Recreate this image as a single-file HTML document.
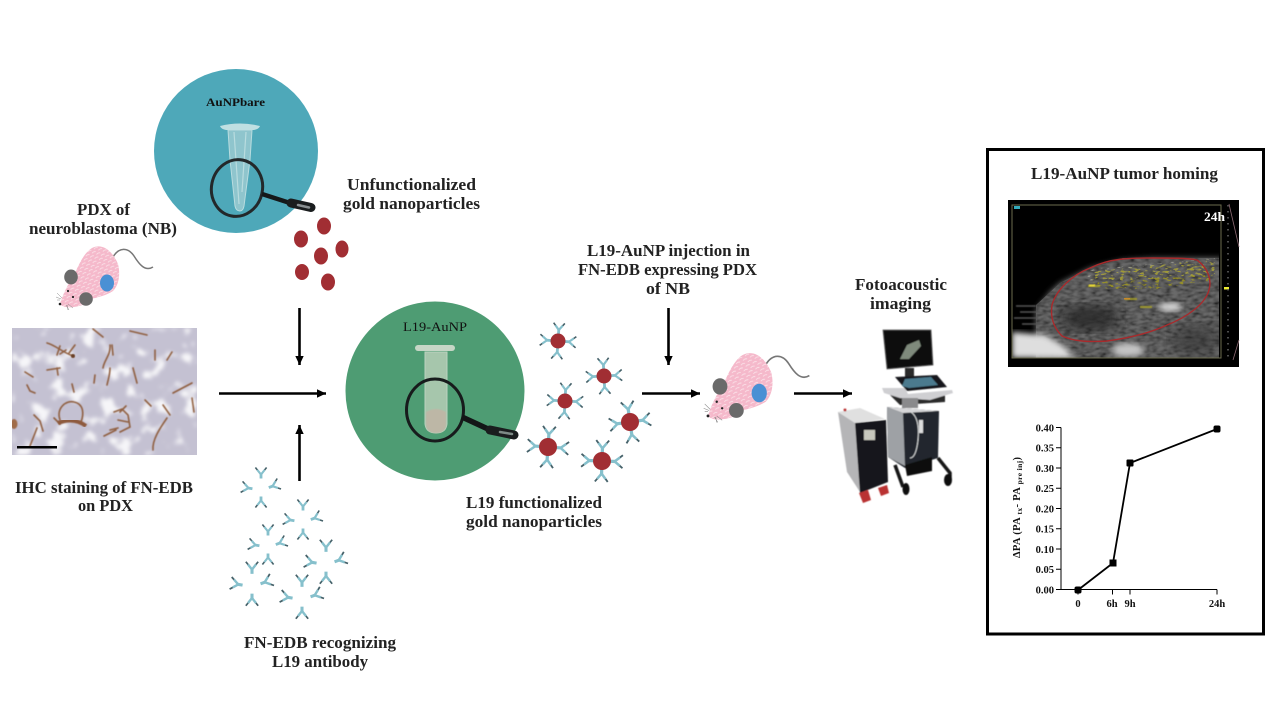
<!DOCTYPE html>
<html lang="en"><head><meta charset="utf-8"><title>L19-AuNP diagram</title>
<style>
html,body{margin:0;padding:0;background:#fff;width:1280px;height:720px;overflow:hidden}
svg{display:block}
.t{font-family:"Liberation Serif",serif;font-weight:bold;font-size:16.5px;fill:#222}
.c{font-family:"Liberation Serif",serif;font-weight:bold;font-size:10.5px;fill:#111}
</style></head><body>
<svg width="1280" height="720" viewBox="0 0 1280 720" xmlns="http://www.w3.org/2000/svg">
<defs>
<marker id="ah" markerUnits="userSpaceOnUse" markerWidth="10" markerHeight="10" refX="9" refY="5" orient="auto"><path d="M0,0.8 L9,5 L0,9.2z" fill="#000"/></marker>
<g id="ab" fill="none"><path d="M0,4.5V0" stroke="#86c0cc" stroke-width="2.8"/><path d="M0,0.5L-3.6,-4M0,0.5L3.6,-4" stroke="#86c0cc" stroke-width="2.2"/><path d="M-3.6,-4L-5.6,-6.5M3.6,-4L5.6,-6.5" stroke="#46626a" stroke-width="1.6"/></g>
<g id="grp"><use href="#ab" transform="translate(0,-11)"/><use href="#ab" transform="translate(-13,3) rotate(-80)"/><use href="#ab" transform="translate(12,1) rotate(70)"/><use href="#ab" transform="translate(0,16) rotate(180)"/></g>
<g id="np"><use href="#ab" transform="translate(0,-11.5)"/><use href="#ab" transform="translate(11.5,0) rotate(90)"/><use href="#ab" transform="translate(0,11.5) rotate(180)"/><use href="#ab" transform="translate(-11.5,0) rotate(-90)"/></g>
<pattern id="fur" width="7" height="6" patternUnits="userSpaceOnUse" patternTransform="rotate(-25)"><rect width="7" height="6" fill="#f5b9cb"/><path d="M1,1.5q2,-1.2 4,0M4.5,4.5q2,-1.2 4,0M-2.5,4.5q2,-1.2 4,0" stroke="#fbe4ea" stroke-width=".8" fill="none"/></pattern>
<g id="mouse">
<path d="M113,257 C119,247 128,247 134,256 C139,264 145,272 153,267" fill="none" stroke="#777" stroke-width="1.5"/>
<path d="M60,304 C62,296 68,284 75,273 C80,262 85,252 92,248 C102,243 112,250 118,264 C121,276 118,286 113,291 C105,296 98,297 92,299 C88,303 82,306 74,307 C68,308 62,307 60,304z" fill="url(#fur)"/>
<ellipse cx="107" cy="283" rx="7" ry="8.5" fill="#4a90d4"/>
<ellipse cx="71" cy="277" rx="6.8" ry="7.5" fill="#6a6a6a"/>
<ellipse cx="86" cy="299" rx="6.8" ry="6.8" fill="#6a6a6a"/>
<circle cx="68" cy="291" r="1.1" fill="#222"/><circle cx="73" cy="297" r="1.1" fill="#222"/><circle cx="60" cy="304" r="1.3" fill="#222"/>
<path d="M62,298l-5,-5M61,299l-5,-2M60,300l-3,0M66,305l3,5M67,305l1,5M68,304l5,4" stroke="#888" stroke-width=".5" fill="none"/>
</g>
<filter id="patch" x="0" y="0" width="100%" height="100%"><feTurbulence type="fractalNoise" baseFrequency=".06" numOctaves="3" seed="7"/><feColorMatrix values="0 0 0 0 1 0 0 0 0 1 0 0 0 0 1 7 0 0 0 -3.9"/><feGaussianBlur stdDeviation="1.8"/></filter>
<filter id="grain" x="0" y="0" width="100%" height="100%"><feTurbulence type="fractalNoise" baseFrequency=".14 .38" numOctaves="2" seed="4"/><feColorMatrix values="0 0 0 0 0 0 0 0 0 0 0 0 0 0 0 1.8 0 0 0 -.55"/><feGaussianBlur stdDeviation=".5"/><feComposite in2="SourceGraphic" operator="in"/><feMerge><feMergeNode in="SourceGraphic"/><feMergeNode/></feMerge></filter>
<filter id="spk" x="0" y="0" width="100%" height="100%"><feTurbulence type="fractalNoise" baseFrequency=".2 .45" numOctaves="2" seed="11"/><feColorMatrix values="0 0 0 0 0 0 0 0 0 0 0 0 0 0 0 8 0 0 0 -4.5"/><feComposite in="SourceGraphic" operator="in"/><feGaussianBlur stdDeviation=".35"/></filter>
<filter id="b1"><feGaussianBlur stdDeviation=".6"/></filter>
<filter id="b3"><feGaussianBlur stdDeviation="3"/></filter>
<filter id="b7"><feGaussianBlur stdDeviation="7"/></filter>
<clipPath id="ihc"><rect x="12" y="328" width="185" height="127"/></clipPath>
<clipPath id="us"><rect x="1012" y="205" width="207" height="153"/></clipPath>
</defs>

<!-- teal circle -->
<circle cx="236" cy="151" r="82" fill="#4ea8b9"/>
<path d="M228,130h24l-2,30 -6,46q-1,5 -4,5q-4,0 -5,-5l-5,-46z" fill="#8fc5cd" stroke="#b8dcdf" stroke-width="1"/>
<path d="M220,126q20,-5 40,0q-1,3 -6,4h-28q-5,-1 -6,-4z" fill="#bfdfe2"/>
<path d="M234,132l5,72M246,132l-4,60" stroke="#b9dcdf" stroke-width="1.2" fill="none"/>
<ellipse cx="237" cy="188" rx="25.5" ry="28.5" fill="none" stroke="#23282a" stroke-width="3" transform="rotate(12 237 188)"/>
<path d="M262,194L290,203" stroke="#151819" stroke-width="4.5"/>
<path d="M291,203L311,207.5" stroke="#1a1d1e" stroke-width="9" stroke-linecap="round"/>
<path d="M298,205L309,207.5" stroke="#8a9092" stroke-width="2.5" stroke-linecap="round"/>
<text x="206" y="106" font-family="Liberation Serif,serif" font-weight="bold" font-size="12" fill="#111" textLength="59" lengthAdjust="spacingAndGlyphs">AuNPbare</text>

<!-- free nanoparticles -->
<g fill="#a12e33"><ellipse cx="301" cy="239" rx="7" ry="8.5"/><ellipse cx="324" cy="226" rx="7" ry="8.5"/><ellipse cx="342" cy="249" rx="6.5" ry="8.5"/><ellipse cx="321" cy="256" rx="7" ry="8.5"/><ellipse cx="302" cy="272" rx="7" ry="8"/><ellipse cx="328" cy="282" rx="7" ry="8.5"/></g>

<!-- mice -->
<use href="#mouse"/>
<use href="#mouse" transform="translate(708,417) scale(1.09) translate(-60,-305)"/>

<!-- IHC image -->
<g clip-path="url(#ihc)">
<rect x="12" y="328" width="185" height="127" fill="#c4c1d2"/>
<rect x="12" y="328" width="185" height="127" filter="url(#patch)" opacity=".85"/>
<g fill="none" stroke="#8a5530" stroke-width="1.6" stroke-linecap="round" filter="url(#b1)" opacity=".9">
<path d="M47,343 C55,345 62,352 73,356M60,346l-3,9M66,350l-6,4M75,345l-6,8"/>
<path d="M110,345 C111,355 104,360 103,368M110,368 C110,375 108,380 107,385M112,345l1,10"/>
<path d="M93,329l10,8M130,331l17,4M155,350l0,10M172,352l-5,8"/>
<path d="M25,372l8,5M47,370l13,-2M57,368l1,7M133,368l4,15"/>
<path d="M27,385l3,6 5,2M34,415l6,6 3,10M30,446l7,-18M72,384l2,8M95,375l-1,8"/>
<path d="M60,420C56,408 66,400 74,402C84,404 84,414 81,422M60,424l-6,-6"/>
<path d="M114,412l8,-3 6,6 2,12 -10,5M104,436l12,-6M120,412l6,-6M118,420l10,2M110,430l8,-2"/>
<path d="M153,450C152,440 160,428 167,418M163,405l7,10M173,393l19,-10M192,398l2,14M145,400l6,6"/>
</g>
<path d="M58,423C68,419 78,420 86,426" stroke="#8e5a3c" stroke-width="4" fill="none" filter="url(#b1)"/>
<circle cx="73" cy="356" r="2" fill="#6a4026" filter="url(#b1)"/>
<ellipse cx="14" cy="424" rx="3.5" ry="5" fill="#a06c48" filter="url(#b1)"/>
<rect x="17" y="446" width="40" height="2.5" fill="#000"/>
</g>

<!-- green circle -->
<circle cx="435" cy="391" r="89.5" fill="#4e9c73"/>
<path d="M425,352h22v72q-1,9 -11,9q-10,0 -11,-9z" fill="#a6c6ac" stroke="#bcd2bf" stroke-width="1"/>
<path d="M426,412q10,-6 20,0v13q-1,8 -10,8q-9,0 -10,-8z" fill="#bdb7a6" filter="url(#b1)"/>
<rect x="415" y="345" width="40" height="6" rx="3" fill="#c6d6c6"/>
<ellipse cx="435" cy="410" rx="28.5" ry="31" fill="none" stroke="#171b1c" stroke-width="3"/>
<path d="M462,417L488,429" stroke="#131617" stroke-width="5.5"/>
<path d="M490,430L514,435" stroke="#1a1d1e" stroke-width="9" stroke-linecap="round"/>
<path d="M500,432L512,434" stroke="#7d8a86" stroke-width="2.5" stroke-linecap="round"/>
<text x="403" y="331" font-family="Liberation Serif,serif" font-size="13" fill="#111" textLength="64" lengthAdjust="spacingAndGlyphs">L19-AuNP</text>

<!-- functionalized particles -->
<use href="#np" transform="translate(558,341) rotate(4)"/><circle cx="558" cy="341" r="7.5" fill="#a12e33"/>
<use href="#np" transform="translate(604,376) rotate(-3)"/><circle cx="604" cy="376" r="7.5" fill="#a12e33"/>
<use href="#np" transform="translate(565,401) rotate(3)"/><circle cx="565" cy="401" r="7.5" fill="#a12e33"/>
<use href="#np" transform="translate(630,422) rotate(-8) scale(1.15)"/><circle cx="630" cy="422" r="9" fill="#a12e33"/>
<use href="#np" transform="translate(548,447) rotate(4) scale(1.15)"/><circle cx="548" cy="447" r="9" fill="#a12e33"/>
<use href="#np" transform="translate(602,461) rotate(2) scale(1.15)"/><circle cx="602" cy="461" r="9" fill="#a12e33"/>

<!-- free antibodies -->
<use href="#grp" transform="translate(261,485)"/>
<use href="#grp" transform="translate(303,517)"/>
<use href="#grp" transform="translate(268,542)"/>
<use href="#grp" transform="translate(326,559) scale(1.1)"/>
<use href="#grp" transform="translate(252,581) scale(1.1)"/>
<use href="#grp" transform="translate(302,594) scale(1.1)"/>

<!-- arrows -->
<g stroke="#000" stroke-width="2.6" fill="none" marker-end="url(#ah)">
<path d="M219,393.5H326"/>
<path d="M299.5,308V365"/>
<path d="M299.5,481V425"/>
<path d="M642,393.5H700"/>
<path d="M668.5,308V365"/>
<path d="M794,393.5H852"/>
</g>

<!-- machine -->
<g filter="url(#b1)">
<path d="M883,330 L931,330 L933,365 L887,369z" fill="#0b0b0e" stroke="#555" stroke-width=".8"/>
<path d="M900,359 L907,345 L919,340 L921,346 L909,359z" fill="#7f8a7c"/>
<rect x="905" y="368" width="9" height="10" fill="#2a2a2c"/>
<path d="M890,395L945,393 945,402 900,405z" fill="#2a2a2c"/>
<path d="M882,388L905,388 908,394 952,390 953,393 930,400 900,398 884,393z" fill="#cfcfd2"/>
<path d="M895,377L937,375 947,387 907,391z" fill="#17171a"/>
<path d="M902,386L905,379 L931,377 L938,385 L909,388z" fill="#4c7a8e"/>
<rect x="902" y="398" width="16" height="10" fill="#8a8a8c"/>
<path d="M887,407L939,411 938,458 905,468 888,457z" fill="#22262d"/>
<path d="M887,407L903,413 905,466 888,457z" fill="#9ea1a5"/>
<path d="M887,407L939,411 903,413z" fill="#d6d6d8"/>
<path d="M911,412Q920,418 918,440Q916,458 910,458" stroke="#d9dcdc" stroke-width="1" fill="none"/>
<rect x="919" y="420" width="4" height="13" fill="#ddd"/>
<path d="M895,465L903,487M938,458L950,473 950,480" stroke="#161616" stroke-width="3.5" fill="none"/>
<path d="M905,465L932,457 932,471 907,476z" fill="#111"/>
<ellipse cx="906" cy="489" rx="3.5" ry="6" fill="#0c0c0c"/>
<ellipse cx="948" cy="480" rx="4" ry="6" fill="#0c0c0c"/>
<path d="M838,412L860,408 885,419 855,423z" fill="#e0e0e0"/>
<path d="M838,412L855,423 860,492 847,472z" fill="#b5b5b7"/>
<path d="M855,423L886,420 888,482 860,493z" fill="#17171a"/>
<rect x="864" y="430" width="11" height="10" fill="#c7c7bd"/>
<path d="M859,493l9,-3 3,10 -8,3zM878,488l9,-3 2,8 -8,3z" fill="#b93030"/>
<circle cx="845" cy="410" r="1.5" fill="#b33"/>
</g>

<!-- panel -->
<rect x="987.5" y="149.5" width="276" height="484.5" fill="none" stroke="#000" stroke-width="3"/>

<!-- ultrasound -->
<rect x="1008" y="200" width="231" height="167" fill="#000"/>
<g clip-path="url(#us)">
<path d="M1036,360V310 L1050,292 L1060,283 L1090,268 L1123,260 L1153,258 L1222,258 V360z" fill="#727272" filter="url(#b3)"/>
<path d="M1036,358V305 L1060,283 L1090,268 L1123,258 L1222,258 V358z" fill="#6c6c6c" filter="url(#grain)" opacity=".9"/>
<path d="M1016,306h20M1020,312h20M1014,318h24M1022,324h18" stroke="#555" stroke-width="1.6" filter="url(#b1)"/>
<path d="M1012,332 L1045,335 L1062,345 L1075,358 H1012z" fill="#dedede" filter="url(#b3)"/>
<ellipse cx="1090" cy="318" rx="30" ry="13" fill="#262626" filter="url(#b7)" opacity=".85"/>
<ellipse cx="1170" cy="307" rx="12" ry="4.5" fill="#d8d8d8" filter="url(#b3)"/>
<ellipse cx="1128" cy="350" rx="16" ry="7" fill="#c4c4c4" filter="url(#b3)"/>
<ellipse cx="1195" cy="340" rx="24" ry="15" fill="#333" filter="url(#b7)" opacity=".6"/>
<path d="M1085,270L1215,258 1215,275 1090,282z" fill="#cfcfc0" opacity=".5" filter="url(#spk)"/>
<path d="M1090,272L1215,259 1215,280 1150,290 1095,288z" fill="#a39b1e" filter="url(#spk)" opacity=".8"/>
<g fill="#a9a32a" filter="url(#b1)" opacity=".85">
<rect x="1088" y="285" width="12" height="2"/><rect x="1125" y="298" width="12" height="2"/><rect x="1140" y="306" width="12" height="2"/>
</g>
<rect x="1089" y="284.5" width="6" height="2" fill="#e8d83a" filter="url(#b1)"/>
<rect x="1124" y="298" width="6" height="1.5" fill="#c98a2a"/>
</g>
<path d="M1012,205H1221V358H1012z" fill="none" stroke="#6d6d4e" stroke-width="1"/>
<path d="M1052,305 C1056,290 1072,275 1090,268 C1110,258 1130,258 1153,258 C1170,258 1188,258 1197,260 C1208,268 1212,280 1209,290 C1205,305 1185,318 1167,325 C1150,333 1130,338 1107,341 C1090,342 1075,342 1062,336 C1054,328 1050,318 1052,305z" fill="none" stroke="#a92a2c" stroke-width="1.4"/>
<rect x="1014" y="206" width="6" height="3" fill="#3ab"/>
<rect x="1224" y="287" width="5" height="2.5" fill="#ee3"/>
<path d="M1228,205V358" stroke="#666" stroke-width="1.5" stroke-dasharray="1.5 4.5"/>
<path d="M1229,204L1239,247M1239,340L1233,360" stroke="#8d6a73" stroke-width=".8"/>
<text x="1204" y="221" font-family="Liberation Serif,serif" font-weight="bold" font-size="13" fill="#fff" textLength="21" lengthAdjust="spacingAndGlyphs">24h</text>

<!-- chart -->
<g stroke="#000" stroke-width="1" fill="none">
<path d="M1061,427.5V589.5H1217"/>
<path d="M1056,427.5h5M1056,447.7h5M1056,468h5M1056,488.2h5M1056,508.5h5M1056,528.7h5M1056,549h5M1056,569.2h5M1056,589.5h5"/>
<path d="M1078,589.5v5M1112.5,589.5v5M1130,589.5v5M1217,589.5v5"/>
</g>
<path d="M1078,590L1113,563L1130,463L1217,429" stroke="#000" stroke-width="1.8" fill="none"/>
<g fill="#000"><rect x="1074.5" y="586.5" width="7" height="7" rx="2"/><rect x="1109.5" y="559.5" width="7" height="7"/><rect x="1126.5" y="459.5" width="7" height="7" rx="1"/><rect x="1213.5" y="425.5" width="7" height="7" rx="2"/></g>
<g text-anchor="end">
<text class="c" x="1054" y="431.5">0.40</text><text class="c" x="1054" y="451.7">0.35</text><text class="c" x="1054" y="472">0.30</text><text class="c" x="1054" y="492.2">0.25</text><text class="c" x="1054" y="512.5">0.20</text><text class="c" x="1054" y="532.7">0.15</text><text class="c" x="1054" y="553">0.10</text><text class="c" x="1054" y="573.2">0.05</text><text class="c" x="1054" y="593.5">0.00</text>
</g>
<g text-anchor="middle"><text class="c" x="1078" y="607">0</text><text class="c" x="1112" y="607">6h</text><text class="c" x="1130" y="607">9h</text><text class="c" x="1217" y="607">24h</text></g>
<text class="c" transform="translate(1020,558) rotate(-90)" textLength="101">ΔPA (PA <tspan font-size="7.5" dy="2">tx</tspan><tspan dy="-2">- PA</tspan> <tspan font-size="7.5" dy="2">pre inj</tspan><tspan dy="-2">)</tspan></text>

<!-- labels -->
<g>
<text class="t" x="347" y="190" textLength="129" lengthAdjust="spacingAndGlyphs">Unfunctionalized</text>
<text class="t" x="343" y="209" textLength="137" lengthAdjust="spacingAndGlyphs">gold nanoparticles</text>
<text class="t" x="77" y="215" textLength="53" lengthAdjust="spacingAndGlyphs">PDX of</text>
<text class="t" x="29" y="234" textLength="148" lengthAdjust="spacingAndGlyphs">neuroblastoma (NB)</text>
<text class="t" x="15" y="493" textLength="178" lengthAdjust="spacingAndGlyphs">IHC staining of FN-EDB</text>
<text class="t" x="78" y="511" textLength="55" lengthAdjust="spacingAndGlyphs">on PDX</text>
<text class="t" x="244" y="648" textLength="152" lengthAdjust="spacingAndGlyphs">FN-EDB recognizing</text>
<text class="t" x="272" y="667" textLength="96" lengthAdjust="spacingAndGlyphs">L19 antibody</text>
<text class="t" x="466" y="508" textLength="136" lengthAdjust="spacingAndGlyphs">L19 functionalized</text>
<text class="t" x="466" y="527" textLength="136" lengthAdjust="spacingAndGlyphs">gold nanoparticles</text>
<text class="t" x="587" y="256" textLength="163" lengthAdjust="spacingAndGlyphs">L19-AuNP injection in</text>
<text class="t" x="578" y="275" textLength="179" lengthAdjust="spacingAndGlyphs">FN-EDB expressing PDX</text>
<text class="t" x="646" y="294" textLength="44" lengthAdjust="spacingAndGlyphs">of NB</text>
<text class="t" x="855" y="290" textLength="92" lengthAdjust="spacingAndGlyphs">Fotoacoustic</text>
<text class="t" x="870" y="309" textLength="61" lengthAdjust="spacingAndGlyphs">imaging</text>
<text class="t" x="1031" y="179" textLength="187" lengthAdjust="spacingAndGlyphs">L19-AuNP tumor homing</text>
</g>
</svg>
</body></html>
